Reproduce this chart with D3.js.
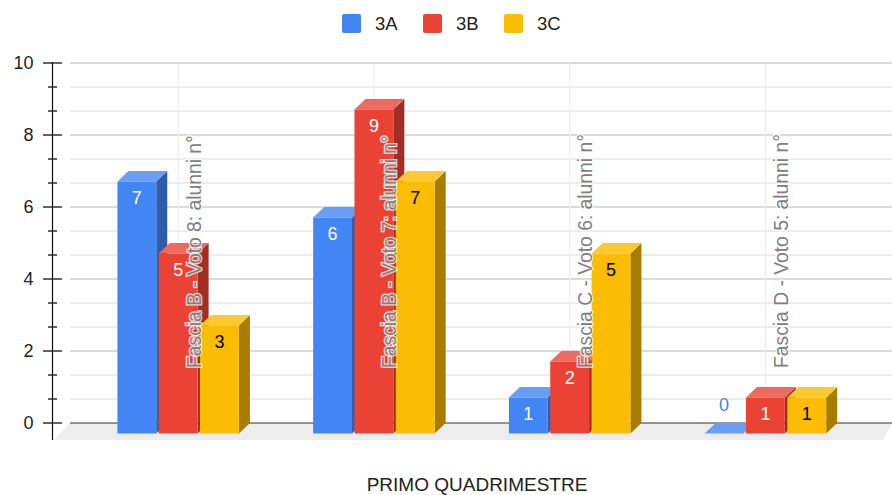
<!DOCTYPE html>
<html><head><meta charset="utf-8">
<script src="https://cdn.jsdelivr.net/npm/d3@7"></script>
<style>html,body{margin:0;padding:0;background:#fff}svg{display:block}text{font-family:"Liberation Sans",Arial,sans-serif}</style>
</head><body><div id="c"></div>
<script>
const categories = ["Fascia B - Voto 8: alunni n°","Fascia B - Voto 7: alunni n°","Fascia C - Voto 6: alunni n°","Fascia D - Voto 5: alunni n°"];
const seriesNames = ["3A","3B","3C"];
const values3A = [7,6,1,0];
const values3B = [5,9,2,1];
const values3C = [3,7,5,1];
const majorTicks = [0,2,4,6,8,10];
const minorTicks = [2/3,4/3,8/3,10/3,14/3,16/3,20/3,22/3,26/3,28/3];
const xTitle = "PRIMO QUADRIMESTRE";
const colors = {"3A":{f:"#4285F4",t:"#6A9DF6",s:"#2E5DAA",l:"#fff"},"3B":{f:"#EA4335",t:"#EF6A5E",s:"#A32E25",l:"#fff"},"3C":{f:"#FBBC04",t:"#FCC934",s:"#A67C02",l:"#000"}};
const seriesValues = {"3A":values3A,"3B":values3B,"3C":values3C};

const W=892,H=495,dx=11,dy=10.5;
const svg=d3.select("#c").append("svg").attr("width",W).attr("height",H);
const y=d3.scaleLinear().domain([0,10]).range([423,63]);
const x0=d3.scaleBand().domain(categories).range([80.3,863.3]);
const x1=d3.scaleBand().domain(seriesNames).range([-60.75,60.75]).paddingInner(0.06);

// floor
svg.append("path").attr("d",`M70,${y(0)}L892,${y(0)}L883,440L54,440Z`).attr("fill","#ededed");

// gridlines
svg.append("g").selectAll("line").data(minorTicks).join("line")
  .attr("x1",70).attr("x2",W).attr("y1",d=>y(d)).attr("y2",d=>y(d)).attr("stroke","#e6e6e6").attr("stroke-width",1.3);
svg.append("g").selectAll("line").data(majorTicks.filter(d=>d>0)).join("line")
  .attr("x1",70).attr("x2",W).attr("y1",d=>y(d)).attr("y2",d=>y(d)).attr("stroke","#cfcfcf").attr("stroke-width",1.3);
// annotation stems
svg.append("g").selectAll("line").data(categories).join("line")
  .attr("x1",d=>x0(d)+x0.bandwidth()/2).attr("x2",d=>x0(d)+x0.bandwidth()/2)
  .attr("y1",y(10)).attr("y2",y(0)).attr("stroke","#efefef").attr("stroke-width",1.3);
svg.append("line").attr("x1",70).attr("x2",W).attr("y1",y(0)).attr("y2",y(0)).attr("stroke","#333").attr("stroke-width",1.2);

// axis
const axis=svg.append("g").attr("transform","translate(52.5,0)");
axis.call(d3.axisLeft(y).tickValues(majorTicks).tickSize(0).tickPadding(19).tickFormat(d3.format("d")));
axis.select(".domain").remove();
axis.selectAll(".tick text").attr("font-size",18).attr("fill","#222").attr("font-family",'"Liberation Sans",Arial,sans-serif').attr("dy","0.3em");
axis.append("line").attr("y1",y(10)-1).attr("y2",440).attr("stroke","#111").attr("stroke-width",1.2);
axis.append("g").selectAll("line").data(majorTicks).join("line")
  .attr("x1",-9.5).attr("x2",9.5).attr("y1",d=>y(d)).attr("y2",d=>y(d)).attr("stroke","#111").attr("stroke-width",1.3);
axis.append("g").selectAll("line").data(minorTicks).join("line")
  .attr("x1",-4.5).attr("x2",4.5).attr("y1",d=>y(d)).attr("y2",d=>y(d)).attr("stroke","#111").attr("stroke-width",1.3);

// bars
const barsData=seriesNames.flatMap(s=>categories.map((c,i)=>({s,c,v:seriesValues[s][i]})));
const bars=svg.append("g").selectAll("g").data(barsData).join("g");
const xl=d=>x0(d.c)+x0.bandwidth()/2+x1(d.s), bw=x1.bandwidth();
const front=d=>y(d.v)+dy, base=y(0)+dy;
bars.append("path").attr("fill",d=>colors[d.s].s)
  .attr("d",d=>`M${xl(d)+bw},${front(d)}l${dx},${-dy}L${xl(d)+bw+dx},${y(0)}L${xl(d)+bw},${base}Z`);
bars.append("path").attr("fill",d=>colors[d.s].t)
  .attr("d",d=>`M${xl(d)},${front(d)}l${dx},${-dy}h${bw}l${-dx},${dy}Z`);
bars.append("rect").attr("fill",d=>colors[d.s].f)
  .attr("x",xl).attr("y",front).attr("width",bw).attr("height",d=>base-front(d));
bars.append("text").attr("text-anchor","middle").attr("font-size",18)
  .attr("x",d=>xl(d)+bw/2).attr("y",d=>d.v===0?y(0)-12.5:front(d)+22.5)
  .attr("fill",d=>d.v===0?colors[d.s].f:colors[d.s].l).text(d=>d.v);

// annotation texts
svg.append("g").selectAll("text").data(categories).join("text")
  .attr("transform",d=>`translate(${x0(d)+x0.bandwidth()/2+22.5},368) rotate(-90)`)
  .attr("font-size",19.3).attr("fill","#808080").attr("stroke","#fff").attr("stroke-width",2.5)
  .attr("stroke-opacity",.8).attr("paint-order","stroke").text(d=>d);

// legend
const legX=d3.scalePoint().domain(seriesNames).range([342,504]);
const leg=svg.append("g").selectAll("g").data(seriesNames).join("g").attr("transform",d=>`translate(${legX(d)},14)`);
leg.append("rect").attr("width",19).attr("height",19).attr("rx",2).attr("fill",d=>colors[d].f);
leg.append("text").attr("x",33).attr("y",16).attr("font-size",18.5).attr("fill","#222").text(d=>d);

svg.append("text").attr("x",477).attr("y",490.5).attr("text-anchor","middle").attr("font-size",19).attr("fill","#222").text(xTitle);
</script></body></html>
